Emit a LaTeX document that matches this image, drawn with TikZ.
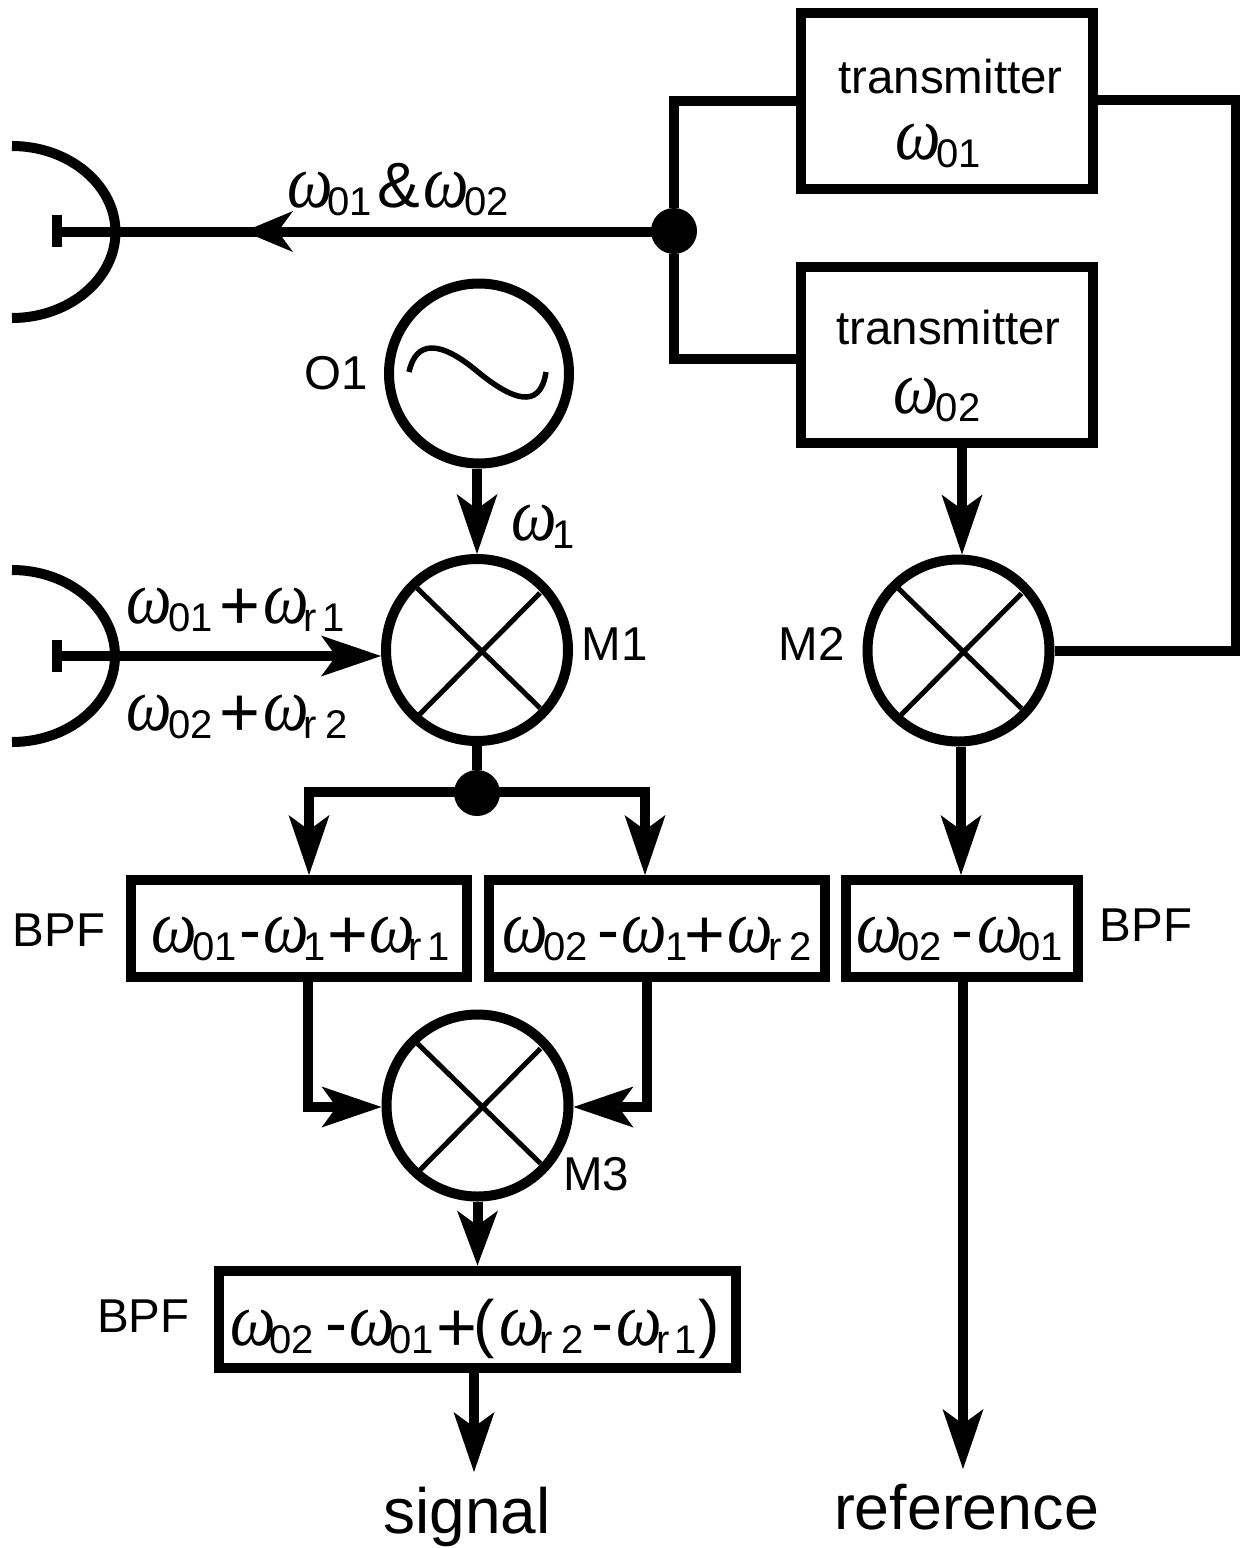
\documentclass[tikz,border=0pt]{standalone}
\usepackage{fontspec}
\usepackage{graphicx}
\setmainfont{Liberation Sans}
\newfontfamily\omfont{Liberation Serif}[ItalicFont=Liberation Serif Italic]
\usetikzlibrary{arrows.meta}
\newcommand{\At}[2]{\rlap{\kern#1pt #2}}
\newcommand{\Om}{\scalebox{1.04}[1.22]{\fontsize{62}{62}\selectfont\omfont\itshape ω}}
\newcommand{\Ox}[1]{\At{#1}{\Om}}
\newcommand{\Sx}[2]{\At{#1}{\raisebox{-8pt}{\fontsize{40}{40}\selectfont #2}}}
\newcommand{\Pl}[1]{\At{#1}{\raisebox{-6pt}{\fontsize{70}{70}\selectfont +}}}
\newcommand{\Mn}[1]{\At{#1}{\fontsize{66}{66}\selectfont -}}
\newcommand{\Tx}[2]{\At{#1}{\fontsize{64}{64}\selectfont #2}}
\newcommand{\Fm}[2]{\hbox to #1pt{#2\hss}}
\tikzset{
  x=1pt,y=-1pt,
  wire/.style={line width=10pt,line cap=butt,line join=miter},
  awire/.style={wire,-{Stealth[length=#1,width=41pt,inset=15pt,line width=0pt]}},
  awire/.default=60pt,
  blockbox/.style={draw,line width=10pt,inner sep=0pt,minimum width=#1,minimum height=97pt},
  roundel/.style={draw,circle,line width=10pt,inner sep=0pt,minimum size=#1},
  cross/.style={line width=5pt},
  dot/.style={fill=black,circle,inner sep=0pt,minimum size=#1},
  lab/.style={inner sep=0pt,font=\fontsize{47.5}{47.5}\selectfont},
  big/.style={inner sep=0pt,font=\fontsize{62.7}{62.7}\selectfont},
  formula/.style={inner sep=0pt,anchor=base west},
}
\begin{document}
\begin{tikzpicture}
\useasboundingbox (0,0) rectangle (1240,1548);
% blocks
\node[blockbox=292pt,minimum height=176pt] (t1) at (947,101) {};
\node[blockbox=292pt,minimum height=176pt] (t2) at (947,355) {};
\node[roundel=180pt] (o1) at (479,373.5) {};
\node[roundel=182pt] (m1) at (477,650) {};
\node[roundel=182pt] (m2) at (958.5,650.5) {};
\node[roundel=182pt] (m3) at (477.5,1105.5) {};
\node[blockbox=336pt] (b1) at (299,928.5) {};
\node[blockbox=336pt] (b2) at (657,928.5) {};
\node[blockbox=232pt] (b3) at (961.5,928.5) {};
\node[blockbox=517pt] (b4) at (477,1319) {};
\node[dot=46pt] (j1) at (674,231) {};
\node[dot=46pt] (j2) at (477,793) {};
% transmitter feed
\coordinate (t1w) at (t1.west);
\coordinate (t2w) at ([yshift=-4pt]t2.west);
\draw[wire] (t1w) -- (t1w-|j1) -- (j1) -- (t2w-|j1) -- (t2w);
% antennas
\coordinate (a1) at (52,231.5);
\coordinate (a2) at (52,656);
\coordinate (a1m) at (244,231.5);
\draw[line width=10pt] (12,146) .. controls (69,146) and (115.5,185) .. (115.5,232) .. controls (115.5,279) and (69,318) .. (12,318);
\draw[line width=10pt] (12,570) .. controls (69,570) and (115,609) .. (115,656) .. controls (115,703) and (69,742) .. (12,742);
\draw[line width=10.5pt] (57,215) -- (57,247);
\draw[line width=10.5pt] (57,639.5) -- (57,672);
\draw[wire] (a1-|j1) -- (a1);
\draw[awire=49pt] (a1-|j1) -- (a1m);
\draw[awire] (a2) -- (a2-|m1.west);
% O1 sine
\draw[line width=5.5pt] (409,372) .. controls (416,340) and (440,340) .. (478,372) .. controls (510,398) and (540,412) .. (546,372);
% crosses
\foreach \m in {m1,m2,m3}{
  \draw[cross] ([shift={(-60,-62)}]\m.center) -- ([shift={(63,58)}]\m.center);
  \draw[cross] ([shift={(63,-57)}]\m.center) -- ([shift={(-58,65)}]\m.center);
}
% wires
\coordinate (xm2) at (962,650);
\coordinate (xm2b) at (961,650);
\draw[awire] (o1.south-|m1.north) -- (m1.north);
\draw[awire] (xm2|-t2.south) -- (xm2|-m2.north);
\coordinate (c2) at (1235.5,650);
\coordinate (t1e) at ([yshift=1pt]t1.east);
\draw[wire] (m2.east) -- (c2|-m2.east) -- (c2|-t1e) -- (t1e);
\draw[wire] (m1.south) -- (j2);
\coordinate (l) at (309,792);
\coordinate (r) at (645,792);
\draw[awire] (l-|j2) -- (l) -- (l|-b1.north);
\draw[awire] (l-|j2) -- (r) -- (r|-b2.north);
\draw[awire] (xm2b|-m2.south) -- (xm2b|-b3.north);
\coordinate (ml) at (308,1107);
\coordinate (mr) at (646.5,1107);
\draw[awire] (ml|-b1.south) -- (ml) -- (ml-|m3.west);
\draw[awire] (mr|-b2.south) -- (mr) -- (mr-|m3.east);
\draw[awire=55pt] (m3.south) -- (m3.south|-b4.north);
\coordinate (sig) at (474,1472);
\coordinate (ref) at (963,1469);
\draw[awire] (sig|-b4.south) -- (sig);
\draw[awire] (ref|-b3.south) -- (ref);
% labels
\node[lab] (tx1) at (950.5,77) {transmitter};
\node[lab] (tx2) at (948.5,328) {transmitter};
\node[formula] (w1) at (895,159) {\Fm{86}{\Ox{0}\Sx{41}{01}}};
\node[formula] (w2) at (893.6,413) {\Fm{89}{\Ox{0}\Sx{42}{02}}};
\node[formula] (w3) at (287,207) {\Fm{224}{\Ox{0}\Sx{40}{01}\Tx{90}{\&}\Ox{136}\Sx{177}{02}}};
\node[lab] (o) at (336,373.5) {O1};
\node[formula] (w4) at (511,540) {\Fm{59}{\Ox{0}\Sx{41}{1}}};
\node[formula] (w5) at (126.5,623) {\Fm{215}{\Ox{0}\Sx{41.5}{01}\Pl{92.5}\Ox{136.5}\Sx{176.5}{r}\Sx{195.5}{1}}};
\node[formula] (w6) at (126.5,730) {\Fm{222}{\Ox{0}\Sx{41.5}{02}\Pl{92.5}\Ox{136.5}\Sx{176.5}{r}\Sx{198.5}{2}}};
\node[lab] (lm1) at (614.5,644) {M1};
\node[lab] (lm2) at (811.7,644) {M2};
\node[lab] (lm3) at (596,1174) {M3};
\node[lab] (bp1) at (59,930) {BPF};
\node[lab] (bp2) at (1146,925) {BPF};
\node[lab] (bp3) at (143.5,1316) {BPF};
\node[formula] (f1) at (151,952.5) {\Fm{296}{\Ox{0}\Sx{41}{01}\Mn{88}\Ox{112.6}\Sx{152.5}{1}\Pl{176}\Ox{218.5}\Sx{257}{r}\Sx{276}{1}}};
\node[formula] (f2) at (502,952.5) {\Fm{310}{\Ox{0}\Sx{41}{02}\Mn{95}\Ox{119}\Sx{163}{1}\Pl{182}\Ox{225}\Sx{266}{r}\Sx{287}{2}}};
\node[formula] (f3) at (856,952.5) {\Fm{202}{\Ox{0}\Sx{41}{02}\Mn{95}\Ox{121}\Sx{162}{01}}};
\node[formula] (f4) at (230,1345) {\Fm{488}{\Ox{0}\Sx{39}{02}\Mn{95}\Ox{119}\Sx{159}{01}\Pl{206}\Tx{243}{(}\Ox{269.5}\Sx{309}{r}\Sx{331}{2}\Mn{361}\Ox{386}\Sx{426}{r}\Sx{444}{1}\Tx{468}{)}}};
\node[big,anchor=base,font=\fontsize{64}{64}\selectfont] (s) at (467,1533.5) {signal};
\node[big,anchor=base] (rf) at (966.5,1529) {reference};
\end{tikzpicture}
\end{document}
